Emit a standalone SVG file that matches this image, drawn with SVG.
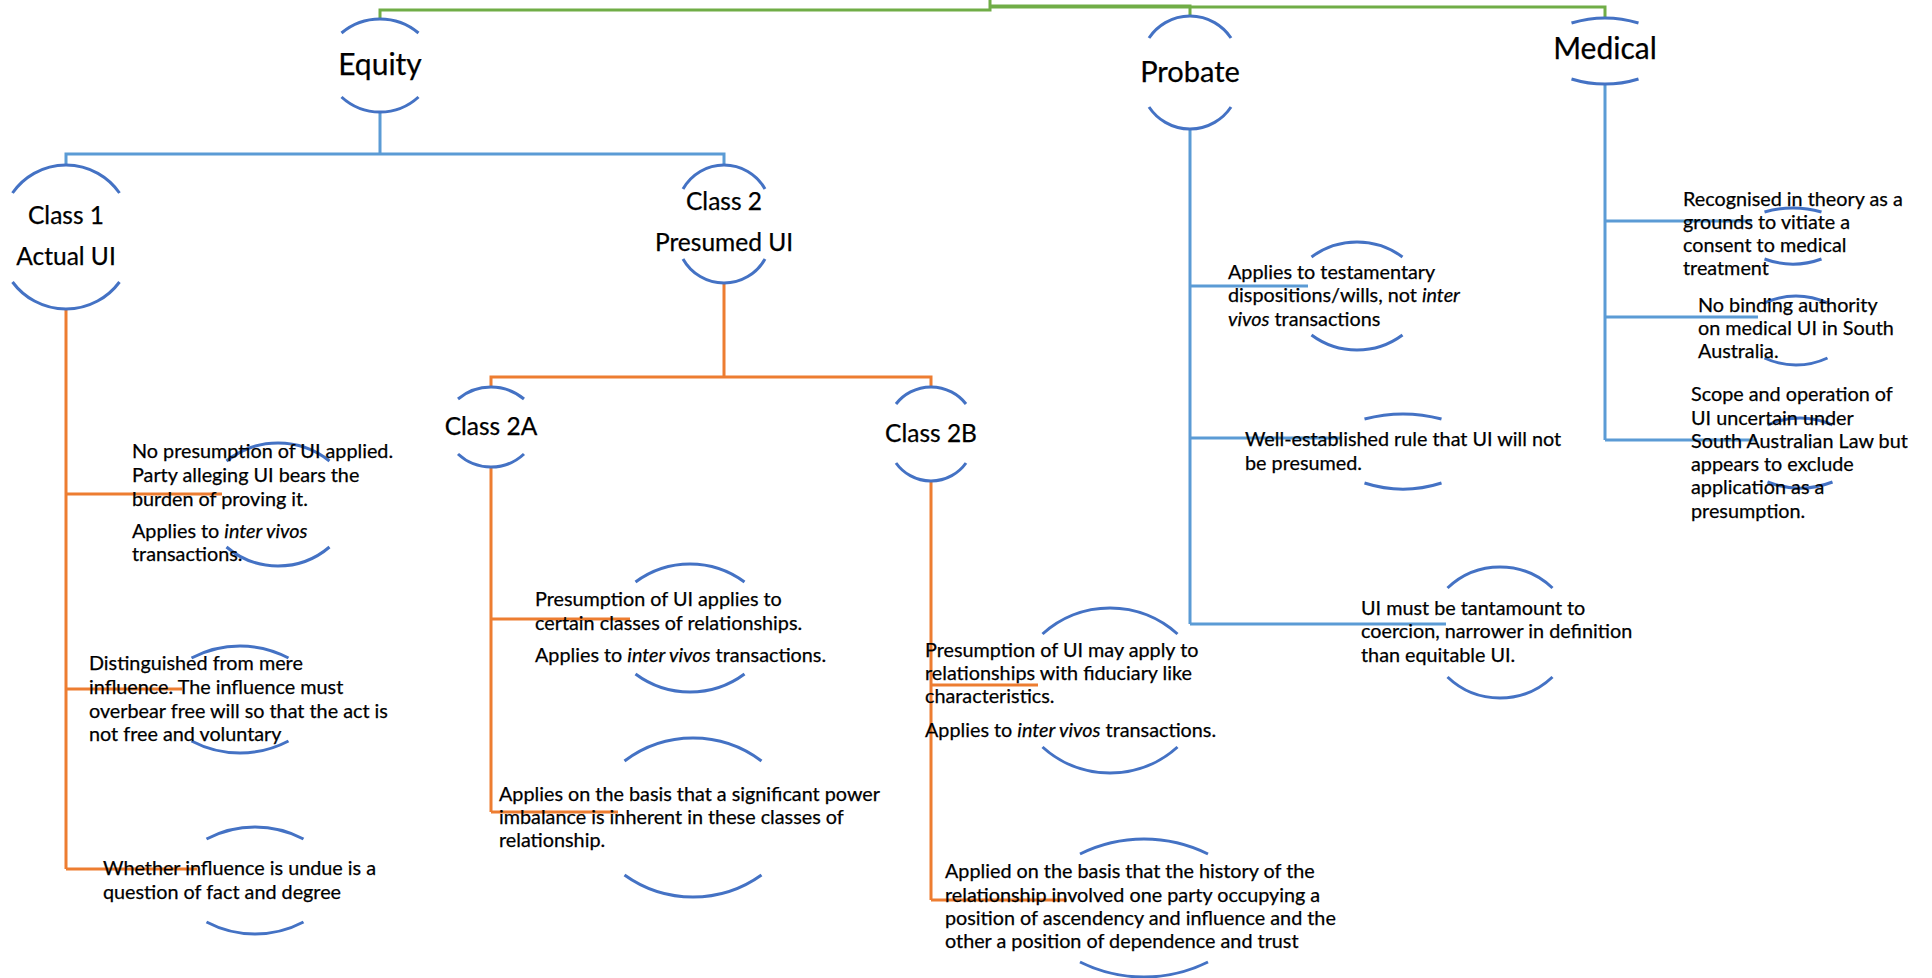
<svg xmlns="http://www.w3.org/2000/svg" width="1932" height="978" viewBox="0 0 1932 978">
<style>
.arc{fill:none;stroke:#4472C4;stroke-width:3}
.cg{fill:none;stroke:#70AD47;stroke-width:3}
.cb{fill:none;stroke:#5B9BD5;stroke-width:3}
.co{fill:none;stroke:#ED7D31;stroke-width:3}
text{font-family:Lato,"Liberation Sans",sans-serif;fill:#000;stroke:#000;stroke-width:0.25}
.t{font-size:19.8px}
.h{font-size:24.5px;text-anchor:middle}
.hh{font-size:29px;text-anchor:middle}
</style>
<rect width="1932" height="978" fill="#fff"/>
<g id="connectors">
<path class="cg" d="M990,0 V10 H380 V19"/>
<path class="cg" d="M990,6 H1190 V16"/>
<path class="cg" d="M990,7 H1605 V18"/>
<path class="cb" d="M380,112 V154 M66,165 V154 H724 V165"/>
<path class="cb" d="M1190,129 V624 M1190,286 H1308 M1190,438 H1342 M1190,624 H1446"/>
<path class="cb" d="M1605,84 V440 M1605,221 H1752 M1605,317 H1758 M1605,440 H1757"/>
<path class="co" d="M66,309 V869 M66,494 H222 M66,689 H182 M66,869 H197"/>
<path class="co" d="M724,283 V377 M491,387 V377 H931 V387"/>
<path class="co" d="M491,467 V812 M491,619 H630 M491,812 H618"/>
<path class="co" d="M931,481 V900 M931,685 H1038 M931,900 H1067"/>
</g>
<g id="node-equity">
<path class="arc" d="M341.5,33 A59.9,59.9 0 0 1 418.5,33 M341.5,97 A56.9,56.9 0 0 0 418.5,97"/>
<text class="hh" x="380" y="75" style="font-size:30px">Equity</text>
</g>
<g id="node-probate">
<path class="arc" d="M1149,38 A49.2,49.2 0 0 1 1231,38 M1149,107 A49.2,49.2 0 0 0 1231,107"/>
<text class="hh" x="1190" y="82">Probate</text>
</g>
<g id="node-medical">
<path class="arc" d="M1571.5,23 A114.7,114.7 0 0 1 1638.5,23 M1571.5,79 A114.7,114.7 0 0 0 1638.5,79"/>
<text class="hh" x="1605" y="59" style="font-size:30px">Medical</text>
</g>
<g id="node-class1">
<path class="arc" d="M12.5,193 A65.1,65.1 0 0 1 119.5,193 M12.5,282 A66.5,66.5 0 0 0 119.5,282"/>
<text class="h" x="66" y="224">Class 1</text>
<text class="h" x="66" y="265">Actual UI</text>
</g>
<g id="node-class2">
<path class="arc" d="M683,189 A47,47 0 0 1 765,189 M683,259 A47,47 0 0 0 765,259"/>
<text class="h" x="724" y="210">Class 2</text>
<text class="h" x="724" y="251">Presumed UI</text>
</g>
<g id="node-class2a">
<path class="arc" d="M458,399 A51.4,51.4 0 0 1 524,399 M458,454 A48.4,48.4 0 0 0 524,454"/>
<text class="h" x="491" y="435">Class 2A</text>
</g>
<g id="node-class2b">
<path class="arc" d="M896,404 A44.5,44.5 0 0 1 966,404 M896,463 A43,43 0 0 0 966,463"/>
<text class="h" x="931" y="442">Class 2B</text>
</g>
<g id="node-c1-presumption">
<path class="arc" d="M226.5,461 A82.7,82.7 0 0 1 329.5,461 M226.5,547 A79.3,79.3 0 0 0 329.5,547"/>
<text class="t" x="132" y="458">No presumption of UI applied.</text>
<text class="t" x="132" y="482">Party alleging UI bears the</text>
<text class="t" x="132" y="506">burden of proving it.</text>
<text class="t" x="132" y="538">Applies to <tspan font-style="italic">inter vivos</tspan></text>
<text class="t" x="132" y="561">transactions.</text>
</g>
<g id="node-c1-distinguished">
<path class="arc" d="M191.5,658 A104,104 0 0 1 288.5,658 M191.5,741 A104,104 0 0 0 288.5,741"/>
<text class="t" x="89" y="670">Distinguished from mere</text>
<text class="t" x="89" y="694">influence. The influence must</text>
<text class="t" x="89" y="718">overbear free will so that the act is</text>
<text class="t" x="89" y="741">not free and voluntary</text>
</g>
<g id="node-c1-fact">
<path class="arc" d="M206.5,839 A104,104 0 0 1 303.5,839 M206.5,922 A104,104 0 0 0 303.5,922"/>
<text class="t" x="103" y="875">Whether influence is undue is a</text>
<text class="t" x="103" y="899">question of fact and degree</text>
</g>
<g id="node-c2a-presumption">
<path class="arc" d="M635.5,582 A91.5,91.5 0 0 1 744.5,582 M635.5,674 A91.5,91.5 0 0 0 744.5,674"/>
<text class="t" x="535" y="606">Presumption of UI applies to</text>
<text class="t" x="535" y="630">certain classes of relationships.</text>
<text class="t" x="535" y="662">Applies to <tspan font-style="italic">inter vivos</tspan> transactions.</text>
</g>
<g id="node-c2a-basis">
<path class="arc" d="M624.5,761 A113.5,113.5 0 0 1 761.5,761 M624.5,875 A117.6,117.6 0 0 0 761.5,875"/>
<text class="t" x="499" y="801">Applies on the basis that a significant power</text>
<text class="t" x="499" y="824">imbalance is inherent in these classes of</text>
<text class="t" x="499" y="847">relationship.</text>
</g>
<g id="node-c2b-presumption">
<path class="arc" d="M1042.5,634 A100.6,100.6 0 0 1 1177.5,634 M1042.5,747 A100.6,100.6 0 0 0 1177.5,747"/>
<text class="t" x="925" y="657">Presumption of UI may apply to</text>
<text class="t" x="925" y="680">relationships with fiduciary like</text>
<text class="t" x="925" y="703">characteristics.</text>
<text class="t" x="925" y="737">Applies to <tspan font-style="italic">inter vivos</tspan> transactions.</text>
</g>
<g id="node-c2b-basis">
<path class="arc" d="M1080,854 A144,144 0 0 1 1208,854 M1080,962 A144,144 0 0 0 1208,962"/>
<text class="t" x="945" y="878">Applied on the basis that the history of the</text>
<text class="t" x="945" y="902">relationship involved one party occupying a</text>
<text class="t" x="945" y="925">position of ascendency and influence and the</text>
<text class="t" x="945" y="948">other a position of dependence and trust</text>
</g>
<g id="node-p-testamentary">
<path class="arc" d="M1311.5,257 A76.5,76.5 0 0 1 1402.5,257 M1311.5,335 A76.5,76.5 0 0 0 1402.5,335"/>
<text class="t" x="1228" y="279">Applies to testamentary</text>
<text class="t" x="1228" y="302">dispositions/wills, not <tspan font-style="italic">inter</tspan></text>
<text class="t" x="1228" y="326"><tspan font-style="italic">vivos</tspan> transactions</text>
</g>
<g id="node-p-rule">
<path class="arc" d="M1364.5,419 A150.7,150.7 0 0 1 1441.5,419 M1364.5,483 A126.5,126.5 0 0 0 1441.5,483"/>
<text class="t" x="1245" y="446">Well-established rule that UI will not</text>
<text class="t" x="1245" y="470">be presumed.</text>
</g>
<g id="node-p-coercion">
<path class="arc" d="M1447.5,588 A76.1,76.1 0 0 1 1552.5,588 M1447.5,677 A76.1,76.1 0 0 0 1552.5,677"/>
<text class="t" x="1361" y="615">UI must be tantamount to</text>
<text class="t" x="1361" y="638">coercion, narrower in definition</text>
<text class="t" x="1361" y="662">than equitable UI.</text>
</g>
<g id="node-m-recognised">
<path class="arc" d="M1764.5,212 A103.5,103.5 0 0 1 1821.5,212 M1764.5,259 A83.7,83.7 0 0 0 1821.5,259"/>
<text class="t" x="1683" y="206">Recognised in theory as a</text>
<text class="t" x="1683" y="229">grounds to vitiate a</text>
<text class="t" x="1683" y="252">consent to medical</text>
<text class="t" x="1683" y="275">treatment</text>
</g>
<g id="node-m-authority">
<path class="arc" d="M1764.5,303 A74.4,74.4 0 0 1 1827.5,303 M1764.5,358 A74.4,74.4 0 0 0 1827.5,358"/>
<text class="t" x="1698" y="312">No binding authority</text>
<text class="t" x="1698" y="335">on medical UI in South</text>
<text class="t" x="1698" y="358">Australia.</text>
</g>
<g id="node-m-scope">
<path class="arc" d="M1767.5,425 A78.9,78.9 0 0 1 1832.5,425 M1767.5,482 A91,91 0 0 0 1832.5,482"/>
<text class="t" x="1691" y="401">Scope and operation of</text>
<text class="t" x="1691" y="425">UI uncertain under</text>
<text class="t" x="1691" y="448">South Australian Law but</text>
<text class="t" x="1691" y="471">appears to exclude</text>
<text class="t" x="1691" y="494">application as a</text>
<text class="t" x="1691" y="518">presumption.</text>
</g>
</svg>
